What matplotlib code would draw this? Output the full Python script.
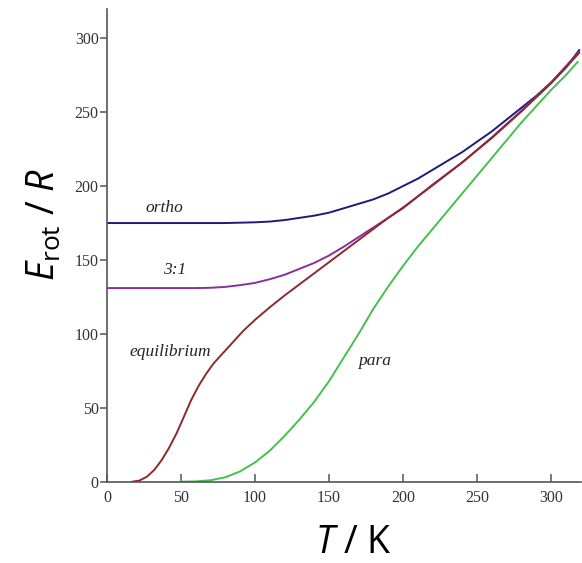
#import necessary libraries
import matplotlib
matplotlib.use("Agg")
import matplotlib.pyplot as plt

#curve data (T in K, E_rot/R in K)
t_ortho = [0, 20, 40, 60, 80, 100, 110, 120, 130, 140, 150, 160, 170, 180, 190, 200,
           210, 220, 230, 240, 250, 260, 270, 280, 290, 300, 310, 319]
e_ortho = [175, 175, 175, 175, 175, 175.5, 176, 177, 178.5, 180, 182, 185, 188, 191, 195, 200,
           205, 211, 217, 223, 230, 237, 245, 253, 261, 270, 280, 292]

t_31 = [0, 20, 40, 60, 70, 80, 90, 100, 110, 120, 130, 140, 150, 160, 170, 180, 190, 200,
        220, 240, 260, 280, 300, 319]
e_31 = [131, 131, 131, 131, 131.2, 131.8, 133, 134.5, 137, 140, 144, 148, 153, 159, 165.5, 172, 178.5, 185,
        201, 216, 233, 251, 270, 291]

t_eq = [17, 22, 27, 32, 37, 42, 47, 52, 57, 62, 67, 72, 77, 82, 87, 92, 100, 110, 120, 130,
        140, 150, 160, 170, 180, 190, 200, 220, 240, 260, 280, 300, 319]
e_eq = [0, 0.8, 3.4, 8, 14.7, 23, 32.7, 44, 55.5, 65, 73, 80, 85.5, 91, 96.5, 102, 109.5, 118, 126, 133.5,
        141, 148.5, 156, 163.5, 171, 178.5, 185.5, 200.5, 216, 232.5, 250.5, 269.5, 290]

t_para = [50, 60, 70, 80, 90, 100, 110, 120, 130, 140, 150, 160, 170, 180, 190, 200, 210,
          220, 230, 240, 250, 260, 270, 280, 290, 300, 310, 318]
e_para = [0, 0.2, 1, 3, 7, 13, 21, 31, 42, 54, 68, 84, 100, 117, 132, 146, 159,
          171, 183, 195, 207, 219, 231, 243, 254, 265, 275, 284]

x_ticks = [0, 50, 100, 150, 200, 250, 300]
y_ticks = [0, 50, 100, 150, 200, 250, 300]

#fonts for the big axis labels
plt.rcParams["mathtext.fontset"] = "custom"
plt.rcParams["mathtext.rm"] = "Open Sans"
plt.rcParams["mathtext.it"] = "Open Sans:italic"

fig = plt.figure(figsize=(5.82, 5.63), dpi=100)
ax = fig.add_axes([0.1838, 0.1444, 0.8138, 0.8401])

ax.plot(t_ortho, e_ortho, color="#1c1c78", lw=1.4)
ax.plot(t_31, e_31, color="#8a2f9c", lw=1.4)
ax.plot(t_eq, e_eq, color="#8c2a2e", lw=1.4)
ax.plot(t_para, e_para, color="#45c04c", lw=1.4)

#curve labels
lab = dict(family="Liberation Serif", style="italic", fontsize=12.5, color="#222222")
ax.text(39, 185, "ortho", ha="center", va="center", **lab)
ax.text(46, 143, "3:1", ha="center", va="center", **lab)
ax.text(43, 88, "equilibrium", ha="center", va="center", **lab)
ax.text(181, 82, "para", ha="center", va="center", **lab)

#style the axes
ax.set_xlim(0, 320)
ax.set_ylim(0, 320)
ax.set_xticks(x_ticks)
ax.set_yticks(y_ticks)
for s in ["top", "right"]:
    ax.spines[s].set_visible(False)
for s in ["left", "bottom"]:
    ax.spines[s].set_color("#555555")
    ax.spines[s].set_linewidth(1.2)
ax.tick_params(axis="x", direction="in", length=6, width=1.1, color="#555555", pad=6)
ax.tick_params(axis="y", direction="out", length=5, width=1.1, color="#555555", pad=1)
for t in ax.get_xticklabels() + ax.get_yticklabels():
    t.set_family("Liberation Serif")
    t.set_fontsize(11.5)
    t.set_color("#333333")

fig.text(45 / 582, 1 - 225 / 563, r"$E_{\mathrm{rot}}$ / $R$", rotation=90,
         ha="center", va="center", fontsize=27, family="Open Sans")
fig.text(353 / 582, 1 - 543 / 563, r"$T$ / K", ha="center", va="center",
         fontsize=27, family="Open Sans")

fig.savefig("out.png", dpi=100)
